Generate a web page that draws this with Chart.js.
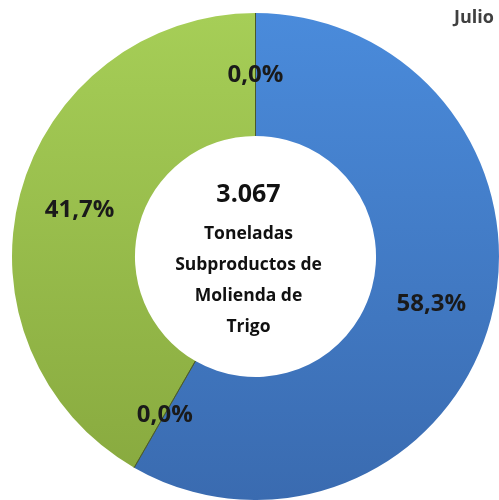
<!DOCTYPE html>
<html>
<head>
<meta charset="utf-8">
<script src="https://cdn.jsdelivr.net/npm/chart.js@4.4.1/dist/chart.umd.min.js"></script>
<style>
html,body{margin:0;padding:0;background:#fff;}
#wrap{position:relative;width:499px;height:500px;}
</style>
</head>
<body>
<div id="wrap"><canvas id="c" width="499" height="500"></canvas></div>
<script>
const categories = ["Nacional", "Importado A", "Importado B", "Otros"];
const shares = [58.3, 0.0, 41.7, 0.0];
const shareLabels = ["58,3%", "0,0%", "41,7%", "0,0%"];
const totalText = "3.067";
const centerLines = ["Toneladas", "Subproductos de", "Molienda de", "Trigo"];
const periodLabel = "Julio";

const topColors = ["#4a8bdb", "#4a8bdb", "#a6ce57", "#a6ce57"];
const bottomColors = ["#3a6bb0", "#3a6bb0", "#87a83e", "#87a83e"];

function grad(ctx, i) {
  const chart = ctx.chart;
  const area = chart.chartArea;
  if (!area) return topColors[i];
  const g = chart.ctx.createLinearGradient(0, area.top, 0, area.bottom);
  g.addColorStop(0, topColors[i]);
  g.addColorStop(1, bottomColors[i]);
  return g;
}

const F = '"Open Sans"';
const labelPlugin = {
  id: 'labels',
  afterDatasetsDraw(chart) {
    const c = chart.ctx;
    const meta = chart.getDatasetMeta(0);
    const a0 = meta.data[0];
    c.save();
    c.strokeStyle = 'rgba(70,85,40,0.8)';
    c.lineWidth = 1;
    meta.data.forEach((arc) => {
      const ang = arc.startAngle;
      c.beginPath();
      c.moveTo(arc.x + Math.cos(ang) * arc.innerRadius, arc.y + Math.sin(ang) * arc.innerRadius);
      c.lineTo(arc.x + Math.cos(ang) * arc.outerRadius, arc.y + Math.sin(ang) * arc.outerRadius);
      c.stroke();
    });
    c.textAlign = 'center';
    c.textBaseline = 'middle';
    c.fillStyle = '#1a1a1a';
    c.font = 'bold 24px ' + F;
    meta.data.forEach((arc, i) => {
      const p = arc.getCenterPoint();
      c.fillText(shareLabels[i], p.x, p.y + 1);
    });
    const cx = a0.x - 7, cy = a0.y;
    c.font = 'bold 25px ' + F;
    c.fillStyle = '#111';
    c.fillText(totalText, cx, cy - 62);
    c.font = 'bold 17.5px ' + F;
    centerLines.forEach((t, k) => {
      c.fillText(t, cx, cy - 22 + k * 31);
    });
    c.textAlign = 'right';
    c.fillStyle = '#404040';
    c.font = 'bold 18px ' + F;
    c.fillText(periodLabel, 494, 18);
    c.restore();
  }
};

new Chart(document.getElementById('c'), {
  type: 'doughnut',
  data: {
    labels: categories,
    datasets: [{
      data: shares,
      backgroundColor: (ctx) => grad(ctx, ctx.dataIndex),
      borderWidth: 0
    }]
  },
  options: {
    responsive: false,
    animation: false,
    cutout: '49.5%',
    layout: { padding: { left: 12, right: 0, top: 13, bottom: 0 } },
    plugins: { legend: { display: false }, tooltip: { enabled: false } }
  },
  plugins: [labelPlugin]
});
</script>
</body>
</html>
